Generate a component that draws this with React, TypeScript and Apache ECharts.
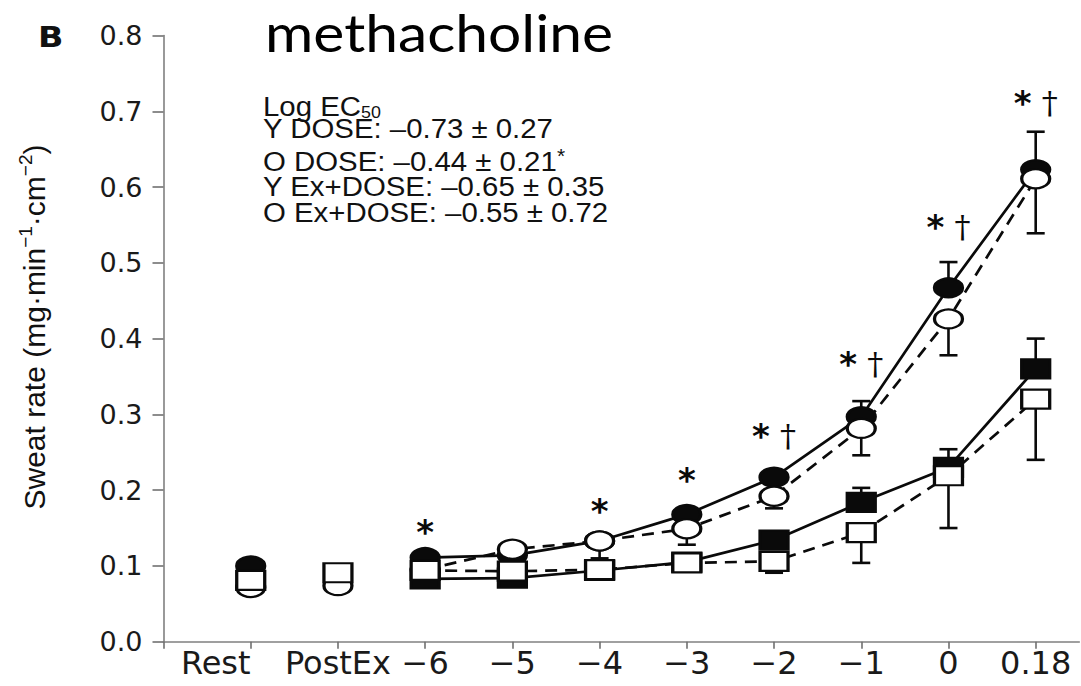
import React, { useEffect, useRef } from 'react';
import * as echarts from 'echarts';

// Categories along the x axis (index 0..9)
const categories = ['Rest', 'PostEx', '−6', '−5', '−4', '−3', '−2', '−1', '0', '0.18'];

// Mean sweat rate (mg·min^-1·cm^-2)
const yDose = [0.100, null, 0.111, 0.114, 0.133, 0.168, 0.217, 0.297, 0.467, 0.623];
const oDose = [0.0715, 0.074, 0.095, 0.122, 0.133, 0.149, 0.192, 0.2815, 0.426, 0.611];
const yExDose = [null, null, 0.083, 0.084, 0.094, 0.105, 0.134, 0.184, 0.230, 0.360];
const oExDose = [0.081, 0.091, 0.094, 0.093, 0.095, 0.104, 0.106, 0.144, 0.219, 0.320];

// Error-bar end values (upper for young, lower for older)
const yDoseUpper = [null, null, null, null, null, null, null, 0.3175, 0.501, 0.673];
const oDoseLower = [null, null, null, null, 0.110, 0.128, 0.176, 0.246, 0.378, 0.539];
const yExDoseUpper = [null, null, null, null, null, null, null, 0.203, 0.254, 0.400];
const oExDoseLower = [null, null, null, null, null, null, 0.091, 0.104, 0.150, 0.240];

// Significance marks and their heights
const sigMarks = ['', '', '*', '', '*', '*', '*†', '*†', '*†', '*†'];
const sigHeights = [null, null, 0.145, null, 0.173, 0.213, 0.272, 0.366, 0.547, 0.711];

// Legend text lines
const legendTitle = ['Log EC', '50'];
const legendLines = [
  'Y DOSE: –0.73 ± 0.27',
  'O DOSE: –0.44 ± 0.21',
  'Y Ex+DOSE: –0.65 ± 0.35',
  'O Ex+DOSE: –0.55 ± 0.72',
];
const legendStarLine = 1;

const yTickFormat = (v: number) => v.toFixed(1);

function lineData(arr: (number | null)[]) {
  const out: number[][] = [];
  arr.forEach((v, i) => {
    if (i >= 2 && v != null) out.push([i, v]);
  });
  return out;
}
function pointData(arr: (number | null)[]) {
  const out: number[][] = [];
  arr.forEach((v, i) => {
    if (v != null) out.push([i, v]);
  });
  return out;
}
function errData(center: (number | null)[], end: (number | null)[]) {
  const out: number[][] = [];
  end.forEach((e, i) => {
    const c = center[i];
    if (e != null && c != null) out.push([i, c, e]);
  });
  return out;
}

const BLACK = '#0a0a0a';

export default function App() {
  const ref = useRef<HTMLDivElement>(null);

  useEffect(() => {
    if (!ref.current) return;
    const chart = echarts.init(ref.current, undefined, { renderer: 'svg' });

    const errRender = (params: any, api: any) => {
      const x = api.value(0);
      const p0 = api.coord([x, api.value(1)]);
      const p1 = api.coord([x, api.value(2)]);
      const style = { stroke: BLACK, lineWidth: 2.6 };
      return {
        type: 'group',
        children: [
          { type: 'line', shape: { x1: p0[0], y1: p0[1], x2: p1[0], y2: p1[1] }, style },
          { type: 'line', shape: { x1: p1[0] - 9, y1: p1[1], x2: p1[0] + 9, y2: p1[1] }, style },
        ],
      };
    };

    const errSeries = (center: (number | null)[], end: (number | null)[]) => ({
      type: 'custom',
      data: errData(center, end),
      encode: { x: 0, y: [1, 2] },
      renderItem: errRender,
      z: 3,
      silent: true,
    });

    const lineSeries = (arr: (number | null)[], dashed: boolean) => ({
      type: 'line',
      data: lineData(arr),
      showSymbol: false,
      symbol: 'none',
      lineStyle: { color: BLACK, width: 2.7, type: dashed ? [12, 8] : 'solid' },
      z: 2,
      silent: true,
    });

    const pointSeries = (arr: (number | null)[], symbol: string, filled: boolean, z: number) => ({
      type: 'scatter',
      data: pointData(arr),
      symbol,
      symbolSize: [28, 19],
      itemStyle: {
        color: filled ? BLACK : '#ffffff',
        borderColor: BLACK,
        borderWidth: 2.7,
        opacity: 1,
      },
      z,
      silent: true,
    });

    const sigData: number[][] = [];
    sigHeights.forEach((h, i) => {
      if (h != null) sigData.push([i, h]);
    });

    const sigSeries = {
      type: 'custom',
      data: sigData,
      encode: { x: 0, y: 1 },
      z: 8,
      silent: true,
      renderItem: (params: any, api: any) => {
        const i = api.value(0);
        const p = api.coord([i, api.value(1)]);
        const mark = sigMarks[i];
        const text = mark === '*†' ? '{a|*}{b| †}' : '{a|*}';
        return {
          type: 'text',
          x: p[0],
          y: p[1],
          style: {
            text,
            align: 'center',
            verticalAlign: 'middle',
            fill: BLACK,
            rich: {
              a: { fontFamily: 'DejaVu Sans', fontWeight: 'bold', fontSize: 34, fill: BLACK, color: BLACK },
              b: { fontFamily: 'DejaVu Serif', fontSize: 32, fill: BLACK, color: BLACK },
            },
          },
        };
      },
    };

    const legendFont = 'Liberation Sans';
    const legendY = [128, 161, 186, 212];
    const legendGraphics: any[] = [
      {
        type: 'text',
        x: 263,
        y: 106,
        scaleX: 1.05,
        style: {
          text: `{n|${legendTitle[0]}}{s|${legendTitle[1]}}`,
          align: 'left',
          verticalAlign: 'middle',
          fill: '#111',
          rich: {
            n: { fontFamily: legendFont, fontSize: 28, lineHeight: 30, fill: '#111' },
            s: { fontFamily: legendFont, fontSize: 17, lineHeight: 14, verticalAlign: 'bottom', fill: '#111' },
          },
        },
      },
    ];
    legendLines.forEach((t, k) => {
      const text = k === legendStarLine ? `{n|${t}}{s|*}` : `{n|${t}}`;
      legendGraphics.push({
        type: 'text',
        x: 263,
        y: legendY[k],
        scaleX: 1.05,
        style: {
          text,
          align: 'left',
          verticalAlign: 'middle',
          fill: '#111',
          rich: {
            n: { fontFamily: legendFont, fontSize: 28, lineHeight: 30, fill: '#111' },
            s: { fontFamily: legendFont, fontSize: 20, lineHeight: 16, verticalAlign: 'top', fill: '#111' },
          },
        },
      });
    });

    chart.setOption({
      animation: false,
      backgroundColor: '#ffffff',
      grid: { left: 163.5, right: 1.7, top: 35.5, bottom: 44.3, outerBoundsMode: 'none' },
      xAxis: {
        type: 'value',
        min: -1,
        max: 9.5,
        interval: 1,
        splitLine: { show: false },
        axisLine: { show: true, onZero: false, lineStyle: { color: '#808080', width: 1.6 } },
        axisTick: {
          show: true,
          length: 7,
          customValues: [-1, 0, 1, 2, 3, 4, 5, 6, 7, 8, 9],
          lineStyle: { color: '#707070', width: 1.6 },
        },
        axisLabel: {
          customValues: [0, 1, 2, 3, 4, 5, 6, 7, 8, 9],
          formatter: (v: number) => {
            const i = Math.round(v);
            return i === 0 ? `{r|${categories[i]}}` : categories[i];
          },
          fontFamily: 'DejaVu Sans',
          fontSize: 32,
          color: '#1a1a1a',
          margin: 5,
          rich: {
            r: { fontFamily: 'DejaVu Sans', fontSize: 32, color: '#1a1a1a', padding: [0, 70, 0, 0] },
          },
        },
      },
      yAxis: {
        type: 'value',
        min: 0,
        max: 0.8,
        interval: 0.1,
        splitLine: { show: false },
        axisLine: { show: true, onZero: false, lineStyle: { color: '#808080', width: 1.6 } },
        axisTick: { show: true, length: 11, lineStyle: { color: '#707070', width: 1.6 } },
        axisLabel: {
          formatter: yTickFormat,
          fontFamily: 'DejaVu Sans',
          fontSize: 27,
          color: '#1a1a1a',
          margin: 21,
        },
      },
      graphic: [
        {
          type: 'text',
          x: 38,
          y: 37,
          scaleX: 1.15,
          style: {
            text: '{b|B}',
            align: 'left',
            verticalAlign: 'middle',
            fill: '#111',
            rich: {
              b: { fontFamily: 'DejaVu Sans', fontWeight: 'bold', fontSize: 29, lineHeight: 32, fill: '#111' },
            },
          },
        },
        {
          type: 'text',
          x: 265,
          y: 32,
          scaleX: 1.13,
          style: {
            text: 'methacholine',
            fontFamily: 'Lato',
            fontSize: 52,
            fill: '#000',
            align: 'left',
            verticalAlign: 'middle',
          },
        },
        {
          type: 'text',
          x: 34,
          y: 327,
          rotation: Math.PI / 2,
          style: {
            text: '{a|Sweat rate (mg·min}{s|−1}{a|·cm}{s|−2}{a|)}',
            align: 'center',
            verticalAlign: 'middle',
            fill: '#111',
            rich: {
              a: { fontFamily: 'Liberation Sans', fontSize: 30, lineHeight: 36, fill: '#111' },
              s: { fontFamily: 'Liberation Sans', fontSize: 19, lineHeight: 20, verticalAlign: 'top', fill: '#111' },
            },
          },
        },
        ...legendGraphics,
      ],
      series: [
        errSeries(yDose, yDoseUpper),
        errSeries(oDose, oDoseLower),
        errSeries(yExDose, yExDoseUpper),
        errSeries(oExDose, oExDoseLower),
        lineSeries(yDose, false),
        lineSeries(oDose, true),
        lineSeries(yExDose, false),
        lineSeries(oExDose, true),
        pointSeries(yDose, 'circle', true, 4),
        pointSeries(yExDose, 'rect', true, 5),
        pointSeries(oDose, 'circle', false, 6),
        pointSeries(oExDose, 'rect', false, 7),
        sigSeries,
      ],
    });

    return () => chart.dispose();
  }, []);

  return (
    <div
      ref={ref}
      style={{ position: 'fixed', left: 0, top: 0, width: 1081, height: 686, background: '#fff' }}
    />
  );
}
